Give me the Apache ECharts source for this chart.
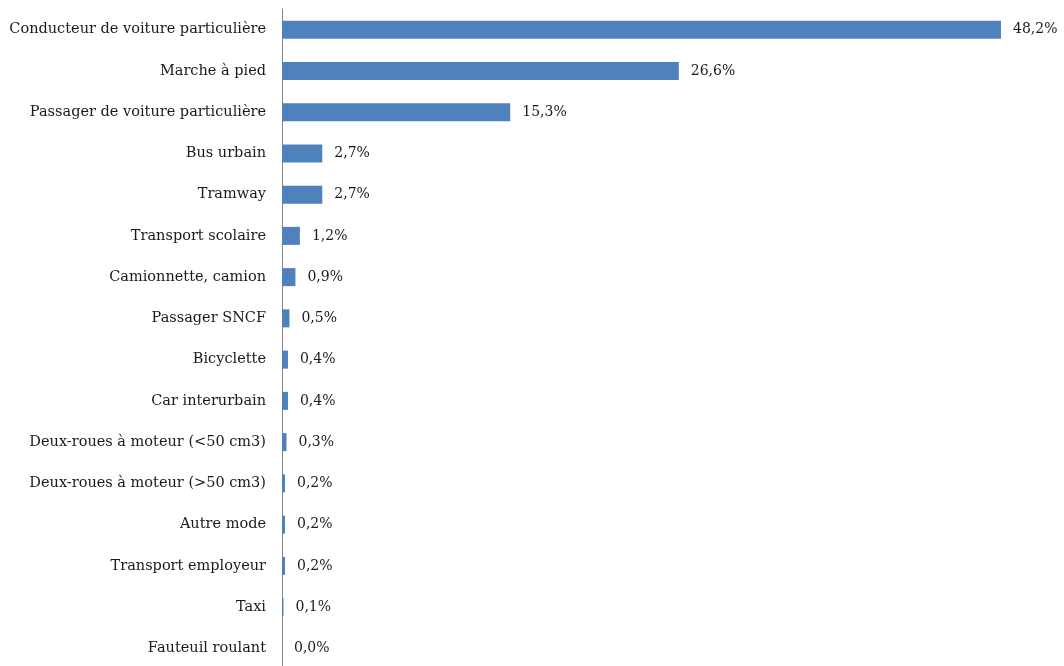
<!DOCTYPE html>
<html>
<head>
<meta charset="utf-8">
<script src="https://cdn.jsdelivr.net/npm/echarts@6/dist/echarts.min.js"></script>
<style>
  html, body { margin: 0; padding: 0; background: #fff; }
  #chart { width: 1064px; height: 666px; }
</style>
</head>
<body>
<div id="chart"></div>
<script>
// Modes de déplacement, part en % (du plus fréquent au moins fréquent)
const categories = [
  'Conducteur de voiture particulière',
  'Marche à pied',
  'Passager de voiture particulière',
  'Bus urbain',
  'Tramway',
  'Transport scolaire',
  'Camionnette, camion',
  'Passager SNCF',
  'Bicyclette',
  'Car interurbain',
  'Deux-roues à moteur (<50 cm3)',
  'Deux-roues à moteur (>50 cm3)',
  'Autre mode',
  'Transport employeur',
  'Taxi',
  'Fauteuil roulant'
];
const shares = [48.2, 26.6, 15.3, 2.7, 2.7, 1.2, 0.9, 0.5, 0.4, 0.4, 0.3, 0.2, 0.2, 0.2, 0.1, 0.0];

const chart = echarts.init(document.getElementById('chart'), null, { renderer: 'canvas' });
const serif = '"DejaVu Serif", "Liberation Serif", serif';

chart.setOption({
  animation: false,
  grid: {
    left: 282, width: 719, top: 9, height: 660,
    containLabel: false,
    outerBoundsMode: 'none'
  },
  xAxis: {
    type: 'value',
    min: 0,
    max: 'dataMax',
    show: false
  },
  yAxis: {
    type: 'category',
    data: categories,
    inverse: true,
    axisLine: { show: true, lineStyle: { color: '#868686', width: 1 } },
    axisTick: { show: false },
    axisLabel: {
      margin: 16,
      color: '#1a1a1a',
      fontFamily: serif,
      fontSize: 14.5
    }
  },
  series: [{
    type: 'bar',
    data: shares,
    barWidth: 18,
    itemStyle: { color: '#4F81BD' },
    label: {
      show: true,
      position: 'right',
      distance: 12,
      color: '#1a1a1a',
      fontFamily: serif,
      fontSize: 14,
      formatter: p => p.value.toFixed(1).replace('.', ',') + '%'
    }
  }]
});
</script>
</body>
</html>
